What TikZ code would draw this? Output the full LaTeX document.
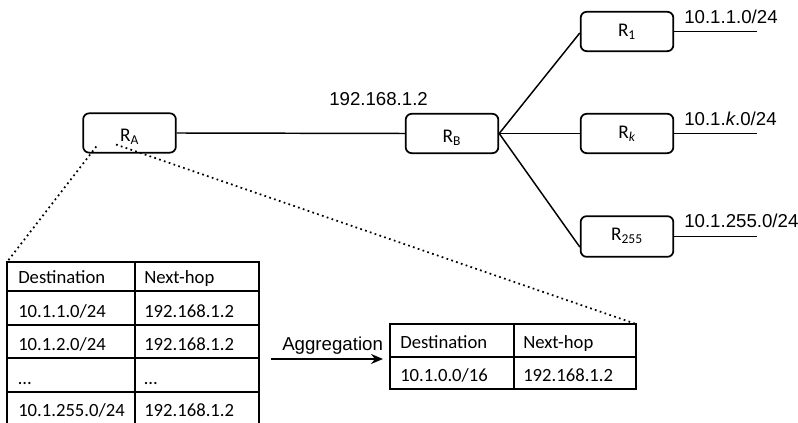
\documentclass[tikz,border=0pt]{standalone}
\usepackage{fontspec}
\setmainfont{Carlito}
\newfontfamily\arialfont{Liberation Sans}
\usetikzlibrary{arrows.meta,calc}

\begin{document}
\begin{tikzpicture}[x=0.75pt,y=-0.75pt,
  router/.style={draw,line width=1.3pt,rounded corners=4.5pt,
    minimum width=69.5pt,minimum height=29.5pt,inner sep=0pt},
  rlab/.style={font=\fontsize{14.5}{16}\selectfont,inner sep=0pt,anchor=base},
  net/.style={line width=1.1pt},
  addr/.style={font=\arialfont\fontsize{14}{16}\selectfont,inner sep=0pt,anchor=base west},
  cell/.style={font=\fontsize{14}{16}\selectfont,inner sep=0pt,anchor=base west},
  grid/.style={line width=0.9pt},
  zoomline/.style={line width=1.3pt,dash pattern=on 1.3pt off 2.5pt}
]
\useasboundingbox (0,0) rectangle (798,423);

% routers
\node[router] (RA) at (129.5,133) {};
\node[router] (RB) at (452,133.5) {};
\node[router] (R1) at (627,31.5) {};
\node[router] (Rk) at (627,133.5) {};
\node[router,minimum height=30.5pt] (R255) at (627,236.5) {};

\node[rlab] (RAt) at ([yshift=-6.5pt]RA.center) {R\textsubscript{A}};
\node[rlab] (RBt) at ([yshift=-7pt]RB.center) {R\textsubscript{B}};
\node[rlab] (R1t) at ([yshift=-4pt]R1.center) {R\textsubscript{1}};
\node[rlab] (Rkt) at ([yshift=-3.5pt]Rk.center) {R\textsubscript{\textit{k}}};
\node[rlab] (R255t) at ([yshift=-2.8pt]R255.center) {R\textsubscript{255}};

% links
\draw[net] (RA.east) -- (RB.west);
\draw[net] (RB.east) -- ([yshift=-1.1pt]R1.west);
\draw[net] (RB.east) -- (Rk.west);
\draw[net] (RB.east) -- ([yshift=-7.9pt]R255.west);

% attached networks
\coordinate (n1) at (757,31.5);
\coordinate (nk) at (757,133.5);
\coordinate (n255) at (757,236.5);
\draw[net] (R1.east) -- (n1);
\draw[net] (Rk.east) -- (nk);
\draw[net] (R255.east) -- (n255);

\node[addr] (a1) at (684,23.5) {10.1.1.0/24};
\node[addr] (ak) at (684,126) {10.1.\textit{k}.0/24};
\node[addr] (a255) at (684,228) {10.1.255.0/24};
\node[addr] (hop) at (329,106) {192.168.1.2};

% full routing table of R_A
\draw[grid] (7,262) rectangle (259,432);
\foreach \yy in {291,325,358,392} \draw[grid] (7,\yy) -- (259,\yy);
\draw[grid] (135,262) -- (135,432);
\node[cell] (c11) at (18,283.5) {Destination};
\node[cell] (c12) at (144,283.5) {Next-hop};
\node[cell] (c21) at (18,317.5) {10.1.1.0/24};
\node[cell] (c22) at (144,317.5) {192.168.1.2};
\node[cell] (c31) at (18,350.5) {10.1.2.0/24};
\node[cell] (c32) at (144,350.5) {192.168.1.2};
\node[cell] (c41) at (18,384) {…};
\node[cell] (c42) at (144,384) {…};
\node[cell] (c51) at (18,416.5) {10.1.255.0/24};
\node[cell] (c52) at (144,416.5) {192.168.1.2};

% aggregated table
\draw[grid] (390,324) rectangle (636,389);
\draw[grid] (390,357) -- (636,357);
\draw[grid] (514,324) -- (514,389);
\node[cell] (d11) at (400,349) {Destination};
\node[cell] (d12) at (523,349) {Next-hop};
\node[cell] (d21) at (400,381) {10.1.0.0/16};
\node[cell] (d22) at (523,381) {192.168.1.2};

% aggregation arrow
\coordinate (ag0) at (271,359);
\coordinate (ag1) at (383,359);
\draw[net,-{Stealth[length=9pt,width=7.5pt,inset=3pt]}] (ag0) -- (ag1);
\node[addr] (agg) at (282,350) {Aggregation};

% zoom-out lines from R_A to its tables
\coordinate (t1c) at (7,262);
\coordinate (t2c) at (636,324);
\draw[zoomline] ($(RA.south west)+(14,-7)$) -- (t1c);
\draw[zoomline] ($(RA.south)+(-13.5,-9)$) -- (t2c);
\end{tikzpicture}
\end{document}
